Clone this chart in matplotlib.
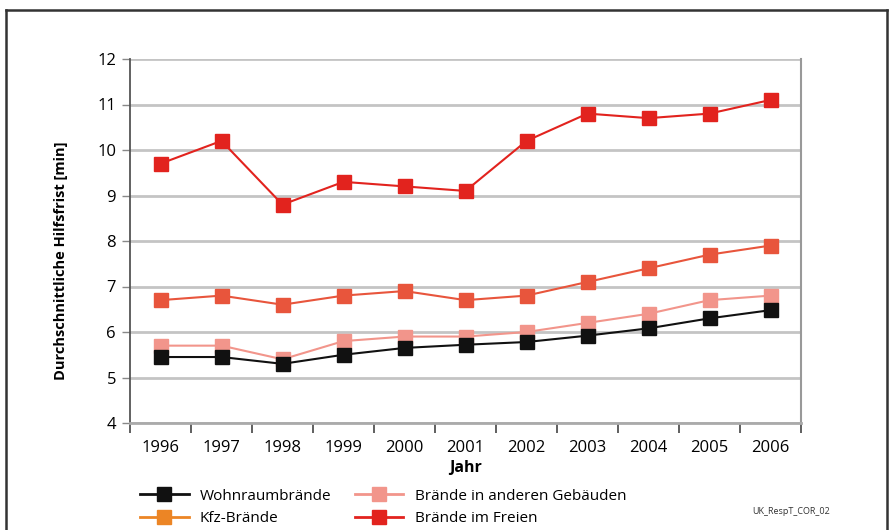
import matplotlib
matplotlib.use("Agg")
import matplotlib.pyplot as plt
from matplotlib.lines import Line2D

plt.rcParams['font.family'] = ['Open Sans', 'DejaVu Sans']

years = ["1996", "1997", "1998", "1999", "2000", "2001", "2002", "2003", "2004", "2005", "2006"]
wohnraum = [5.45, 5.45, 5.3, 5.5, 5.65, 5.72, 5.78, 5.92, 6.08, 6.3, 6.48]
kfz = [6.7, 6.8, 6.6, 6.8, 6.9, 6.7, 6.8, 7.1, 7.4, 7.7, 7.9]
andere = [5.7, 5.7, 5.4, 5.8, 5.9, 5.9, 6.0, 6.2, 6.4, 6.7, 6.8]
freien = [9.7, 10.2, 8.8, 9.3, 9.2, 9.1, 10.2, 10.8, 10.7, 10.8, 11.1]
yticks = [4, 5, 6, 7, 8, 9, 10, 11, 12]

series = [
    ("Wohnraumbrände", wohnraum, "#111111", "#111111"),
    ("Kfz-Brände", kfz, "#e8553c", "#ec8525"),
    ("Brände in anderen Gebäuden", andere, "#f2958b", "#f2958b"),
    ("Brände im Freien", freien, "#e2231e", "#e2231e"),
]

fig = plt.figure(figsize=(8.93, 5.30), dpi=100)
ax = fig.add_axes([130/893, 1-423/530, 671/893, 364/530])

x = list(range(len(years)))
for name, vals, col, lcol in [series[3], series[1], series[2], series[0]]:
    ax.plot(x, vals, color=col, lw=1.5, marker='s', markersize=9.5,
            markeredgecolor=col, markerfacecolor=col, zorder=3)

ax.set_xlim(-0.5, len(years) - 0.5)
ax.set_ylim(4, 12)
ax.set_yticks(yticks)
ax.set_yticklabels([str(v) for v in yticks], fontsize=12)
ax.yaxis.grid(True, color='#c4c4c4', lw=2)
ax.set_axisbelow(True)

ax.set_xticks([i + 0.5 for i in range(-1, len(years))])
ax.set_xticklabels([])
ax.set_xticks(x, minor=True)
ax.set_xticklabels(years, minor=True, fontsize=12)
ax.tick_params(axis='x', which='major', length=7, width=1.2, color='#444444', direction='out')
ax.tick_params(axis='x', which='minor', length=0, pad=12)
ax.tick_params(axis='y', length=6, width=1, color='#888888', pad=4)

ax.spines['top'].set_visible(False)
ax.spines['left'].set_color('#555555')
ax.spines['left'].set_linewidth(1.3)
ax.spines['right'].set_color('#999999')
ax.spines['right'].set_linewidth(1.5)
ax.spines['bottom'].set_color('#aaaaaa')
ax.spines['bottom'].set_linewidth(2)

ax.set_ylabel("Durchschnittliche Hilfsfrist [min]", fontsize=10.5, fontweight='bold')
ax.yaxis.set_label_coords(-62/671, 0.445)
ax.set_xlabel("Jahr", fontsize=11.5, fontweight='bold', labelpad=3)

handles = []
for name, vals, col, lcol in series:
    handles.append(Line2D([], [], color=lcol, lw=2, marker='s', markersize=9.5,
                          markerfacecolor=lcol, markeredgecolor=lcol, label=name))
fig.legend(handles=handles, ncol=2, loc='upper left', bbox_to_anchor=(132/893, 1-481/530),
           frameon=False, fontsize=11, handlelength=3.2, columnspacing=1.5,
           labelspacing=0.5, handletextpad=0.75, borderpad=0)

fig.text(752/893, 1-512/530, "UK_RespT_COR_02", fontsize=6.5, va='center', color='#333333')

# frame
fl = dict(color='#333333', lw=1.8, transform=fig.transFigure)
fig.add_artist(Line2D([6/893, 887/893], [1-10/530, 1-10/530], **fl))
fig.add_artist(Line2D([6/893, 6/893], [1-10/530, 0], **fl))
fig.add_artist(Line2D([887/893, 887/893], [1-10/530, 0], **fl))

fig.savefig("out.png", dpi=100)
